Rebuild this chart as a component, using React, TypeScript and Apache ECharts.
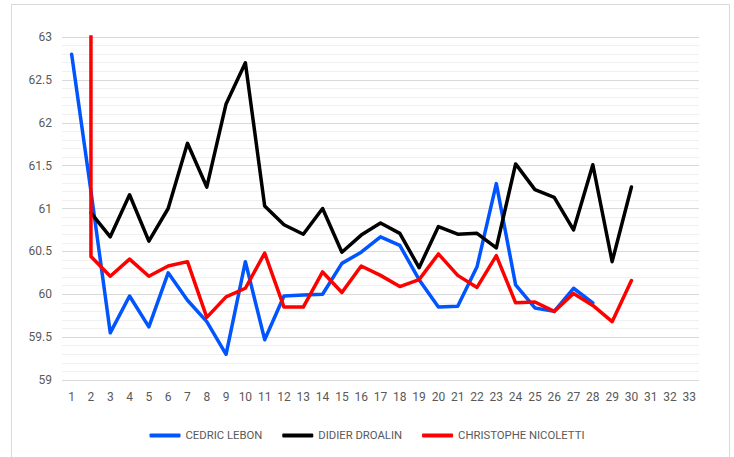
import React, { useEffect, useRef } from "react";
import * as echarts from "echarts";

const categories: string[] = Array.from({ length: 33 }, (_, i) => String(i + 1));

const cedricLebon: (number | null)[] = [
  62.8, 61.2, 59.55, 59.98, 59.62, 60.25, 59.93, 59.68, 59.3, 60.38,
  59.47, 59.98, 59.99, 60.0, 60.36, 60.49, 60.67, 60.57, 60.17, 59.85,
  59.86, 60.32, 61.29, 60.11, 59.84, 59.8, 60.07, 59.9, null, null,
  null, null, null,
];

const didierDroalin: (number | null)[] = [
  null, 60.95, 60.67, 61.16, 60.62, 61.0, 61.76, 61.25, 62.22, 62.7,
  61.03, 60.81, 60.7, 61.0, 60.49, 60.69, 60.83, 60.71, 60.31, 60.79,
  60.7, 60.71, 60.54, 61.52, 61.22, 61.13, 60.75, 61.51, 60.38, 61.25,
  null, null, null,
];

const christopheNicoletti: (number | null)[] = [
  6000, 60.44, 60.21, 60.41, 60.21, 60.33, 60.38, 59.73, 59.97, 60.07,
  60.48, 59.85, 59.85, 60.26, 60.02, 60.33, 60.22, 60.09, 60.17, 60.47,
  60.22, 60.08, 60.45, 59.9, 59.91, 59.8, 60.01, 59.87, 59.68, 60.16,
  null, null, null,
];

const seriesNames = ["CEDRIC LEBON", "DIDIER DROALIN", "CHRISTOPHE NICOLETTI"];
const seriesColors = ["#0055FF", "#000000", "#FF0000"];

export default function App() {
  const ref = useRef<HTMLDivElement>(null);
  useEffect(() => {
    if (!ref.current) return;
    const chart = echarts.init(ref.current, undefined, { renderer: "svg" });
    const font = "Roboto, 'Liberation Sans', sans-serif";
    const datasets = [cedricLebon, didierDroalin, christopheNicoletti];
    chart.setOption({
      animation: false,
      backgroundColor: "#ffffff",
      textStyle: { fontFamily: font },
      graphic: [
        {
          type: "rect",
          shape: { x: 11.5, y: 4.5, width: 718, height: 470 },
          style: { fill: "none", stroke: "#d9d9d9", lineWidth: 1 },
          silent: true,
        },
      ],
      grid: { left: 62, right: 35, top: 37, bottom: 77, containLabel: false },
      legend: {
        bottom: 11,
        left: "center",
        itemWidth: 31,
        itemHeight: 4,
        itemGap: 20,
        icon: "roundRect",
        data: seriesNames,
        textStyle: { color: "#595959", fontSize: 11.3, fontFamily: font },
      },
      xAxis: {
        type: "category",
        data: categories,
        boundaryGap: true,
        axisLine: { show: false },
        axisTick: { show: false },
        axisLabel: { color: "#595959", fontSize: 12, margin: 11, interval: 0 },
        splitLine: { show: false },
      },
      yAxis: {
        type: "value",
        min: 59,
        max: 63,
        interval: 0.5,
        axisLine: { show: false },
        axisTick: { show: false },
        axisLabel: { color: "#595959", fontSize: 12, margin: 10 },
        splitLine: { show: true, lineStyle: { color: "#d9d9d9", width: 1 } },
        minorTick: { show: false, splitNumber: 5 },
        minorSplitLine: { show: true, lineStyle: { color: "#f0f0f0", width: 1 } },
      },
      series: datasets.map((d, i) => ({
        name: seriesNames[i],
        type: "line",
        data: d,
        showSymbol: false,
        symbol: "none",
        clip: true,
        connectNulls: false,
        color: seriesColors[i],
        lineStyle: { color: seriesColors[i], width: 3.5, join: "round", cap: "round" },
        z: 2 + i,
      })),
    });
    return () => chart.dispose();
  }, []);
  return (
    <div
      ref={ref}
      style={{ position: "fixed", left: 0, top: 0, width: 734, height: 457 }}
    />
  );
}
